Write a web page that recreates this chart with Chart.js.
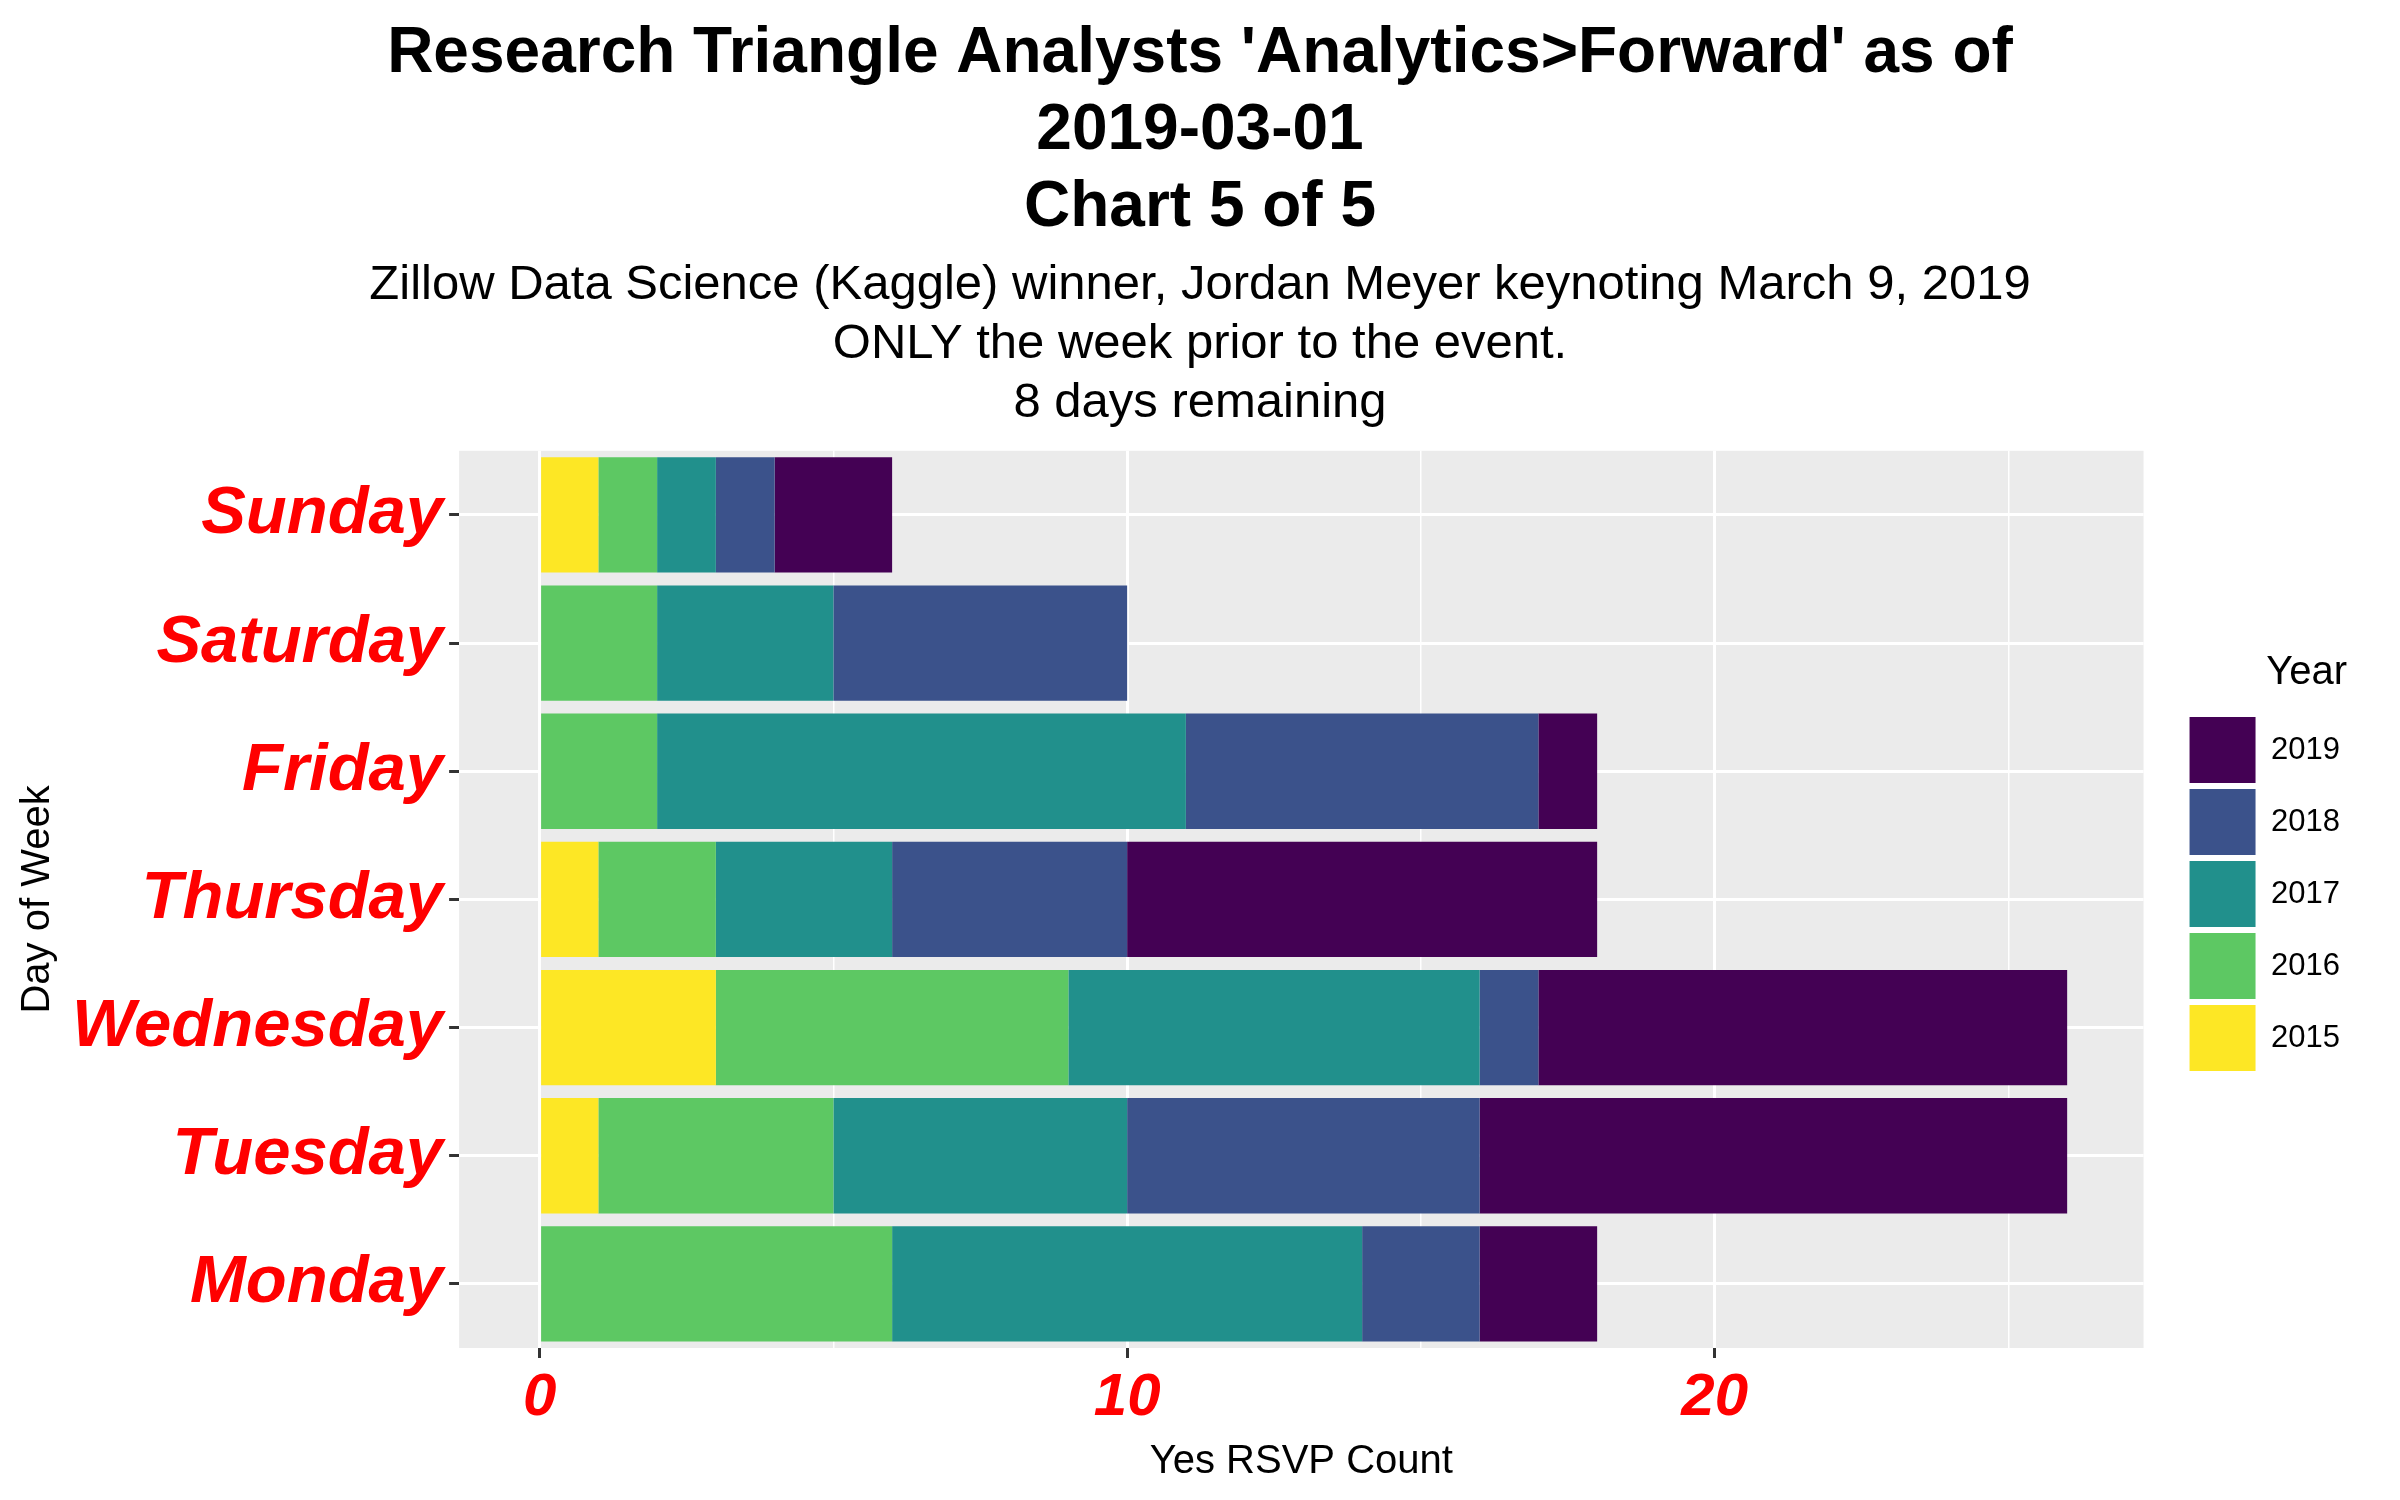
<!DOCTYPE html>
<html>
<head>
<meta charset="utf-8">
<script src="https://cdn.jsdelivr.net/npm/chart.js@4"></script>
<style>
  body { margin: 0; background: #fff; }
  #wrap { width: 2400px; height: 1500px; }
</style>
</head>
<body>
<div id="wrap"><canvas id="chart" width="2400" height="1500"></canvas></div>
<script>
const days = ["Sunday", "Saturday", "Friday", "Thursday", "Wednesday", "Tuesday", "Monday"];
const years = ["2015", "2016", "2017", "2018", "2019"];
const y2015 = [1, 0, 0, 1, 3, 1, 0];
const y2016 = [1, 2, 2, 2, 6, 4, 6];
const y2017 = [1, 3, 9, 3, 7, 5, 8];
const y2018 = [1, 5, 6, 4, 1, 6, 2];
const y2019 = [2, 0, 1, 8, 9, 10, 2];
const xTicks = [0, 5, 10, 15, 20, 25];
const colors = ["#FDE725", "#5DC863", "#21908C", "#3B528B", "#440154"];

Chart.defaults.font.family = "Liberation Sans, Arial, sans-serif";
Chart.defaults.color = "#000";

const panelBg = {
	id: "panelBg",
	beforeDraw(chart) {
		const a = chart.chartArea, ctx = chart.ctx;
		ctx.save();
		ctx.fillStyle = "#EBEBEB";
		ctx.fillRect(a.left, a.top, a.right - a.left, a.bottom - a.top);
		ctx.restore();
	},
};

// push the legend away from the panel and down to its middle
const legendShift = {
	id: "legendShift",
	afterInit(chart) {
		const lg = chart.legend;
		const fit = lg.fit.bind(lg);
		lg.fit = function () { fit(); this.width += 80; };
		const draw = lg.draw.bind(lg);
		lg.draw = function () {
			const ctx = this.ctx;
			ctx.save();
			ctx.translate(40, 120);
			draw();
			ctx.restore();
		};
	},
};

const series = [y2015, y2016, y2017, y2018, y2019];

new Chart(document.getElementById("chart"), {
	type: "bar",
	data: {
		labels: days,
		datasets: years.map((y, i) => ({
			label: y,
			data: series[i],
			backgroundColor: colors[i],
			borderWidth: 0,
			categoryPercentage: 0.9,
			barPercentage: 1,
		})),
	},
	plugins: [panelBg, legendShift],
	options: {
		indexAxis: "y",
		responsive: false,
		animation: false,
		layout: { padding: { left: 10, right: 10, top: 0, bottom: 10 } },
		plugins: {
			title: {
				display: true,
				text: ["Research Triangle Analysts 'Analytics>Forward' as of", "2019-03-01", "Chart 5 of 5"],
				font: { size: 64, weight: "bold" },
				lineHeight: 0.9,
				padding: { top: 16, bottom: 10 },
			},
			subtitle: {
				display: true,
				text: ["Zillow Data Science (Kaggle) winner, Jordan Meyer keynoting March 9, 2019", "ONLY the week prior to the event.", "8 days remaining"],
				font: { size: 49 },
				lineHeight: 1.1,
				padding: { bottom: 18 },
			},
			legend: {
				position: "right",
				reverse: true,
				title: { display: true, text: "Year", font: { size: 40 }, padding: { top: 0, bottom: 10 } },
				labels: { boxWidth: 66, boxHeight: 66, font: { size: 31 }, padding: 6 },
			},
			tooltip: { enabled: false },
		},
		scales: {
			x: {
				stacked: true,
				min: -1.37,
				max: 27.3,
				afterBuildTicks(axis) { axis.ticks = xTicks.map(v => ({ value: v })); },
				ticks: {
					color: "#FF0000",
					font: { size: 60, weight: "bold", style: "italic" },
					callback: v => (v % 10 === 0 ? v : ""),
					padding: 4,
				},
				grid: {
					color: "#fff",
					tickColor: ctx => (ctx.tick && ctx.tick.value % 10 === 0 ? "#333" : "rgba(0,0,0,0)"),
					lineWidth: ctx => (ctx.tick && ctx.tick.value % 10 === 0 ? 3 : 1.5),
					tickLength: 10,
				},
				border: { display: false },
				title: { display: true, text: "Yes RSVP Count", font: { size: 40 }, padding: { top: 0 } },
			},
			y: {
				stacked: true,
				ticks: {
					color: "#FF0000",
					font: { size: 67, weight: "bold", style: "italic" },
					padding: 6,
				},
				grid: { color: "#fff", tickColor: "#333", lineWidth: 3, offset: false, tickLength: 10 },
				border: { display: false },
				title: { display: true, text: "Day of Week", font: { size: 40 } },
			},
		},
	},
});
</script>
</body>
</html>
